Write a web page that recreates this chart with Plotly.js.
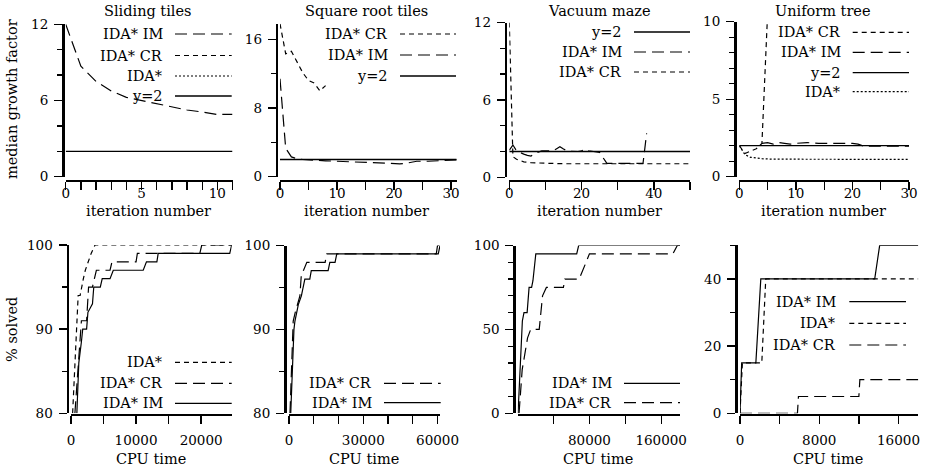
<!DOCTYPE html>
<html><head><meta charset="utf-8">
<script src="https://cdn.plot.ly/plotly-3.0.1.min.js"></script>
<style>html,body{margin:0;padding:0;background:#fff}#chart{width:925px;height:468px}</style>
</head><body><div id="chart"></div>
<script>
// ---------- DATA ----------
// Top row: median growth factor vs iteration number
const stIter = [0,1,2,3,4,5,6,7,8,9,10,11];
const stIM   = [12,8.7,7.5,6.75,6.25,6.0,5.75,5.5,5.25,5.1,4.9,4.9];
const stY2x  = [0,11];
const stY2   = [2,2];

const srCRIter = [0,1,2,3,4,5,6,7,8];
const srCR     = [17.8,14.3,14.6,13.4,12.1,11.2,10.9,10.0,10.6];
const srIMIter = [0,1,2,3,4,5,6,8,10,12,14,16,18,20,21,22,23,24,26,28,30,31];
const srIM     = [11.4,3.3,2.3,2.1,2.0,1.95,1.9,1.85,1.8,1.75,1.7,1.6,1.55,1.5,1.5,1.55,1.7,1.8,1.8,1.85,1.9,1.95];
const srY2x    = [0,31];
const srY2     = [2,2];

const vmCRIter = [0,1,2,3,4,6,8,10,15,20,30,40,50];
const vmCR     = [12,1.6,1.4,1.28,1.2,1.13,1.1,1.08,1.05,1.05,1.05,1.05,1.05];
const vmIMIter = [0,1,2,3,4,5,6,7,8,9,10,11,12,13,14,15,16,17,18,19,20,21,22,23,24,25,26,27,30,33,37,38];
const vmIM     = [2.1,2.5,2.05,1.9,1.8,1.7,1.65,1.85,1.95,2.05,2.06,2.06,2.06,2.2,2.37,2.2,2.05,2.02,2.0,2.0,2.05,2.17,2.06,2.02,1.98,1.92,1.5,1.08,1.08,1.08,1.08,3.4];
const vmY2x    = [0,50];
const vmY2     = [2,2];

const utCRIter  = [0,1,2,3,4,5];
const utCR      = [2.0,1.5,1.65,1.8,2.15,10.5];
const utIMIter  = [4,5,6,7,8,9,10,12,14,16,18,20,21,22,24,26,28,30];
const utIM      = [2.15,2.2,2.1,2.2,2.15,2.1,2.15,2.2,2.15,2.15,2.15,2.15,2.1,1.97,1.97,1.97,1.97,1.97];
const utIDAIter = [0,1,2,3,4,6,10,15,20,25,30];
const utIDA     = [2.0,1.42,1.25,1.2,1.16,1.13,1.12,1.12,1.12,1.12,1.12];
const utY2x     = [0,30];
const utY2      = [2,2];

// Bottom row: % solved vs CPU time
const st2TimeIDA = [250,500,800,1000,1100,1400,1600,1900,2200,2600,3100,3700,24700];
const st2IDA     = [80,84,88,91,94,94,95,96,97,98,99,100,100];
const st2TimeCR  = [600,1100,1600,2400,2700,3300,3900,6000,6300,10000,10200,19800,20100,24700];
const st2CR      = [80,86,91,91,95,95,97,97,98,98,99,99,100,100];
const st2TimeIM  = [900,1200,1600,1800,2400,2600,3300,3500,4500,4800,6000,6500,11100,11600,13200,13400,24400,24700];
const st2IM      = [80,86,88.5,90,90,92,93,95,95,96,96,97,97,98,98,99,99,100];

const sr2TimeCR = [400,1000,1700,2500,4400,5000,5800,7200,14600,15200,59500,60000,61000];
const sr2CR     = [80,85,91,92,94,96.6,97,98,98,99,99,100,100];
const sr2TimeIM = [700,1500,2000,2400,3000,3800,5000,6400,8400,9000,15800,16500,18600,19300,60300,61000];
const sr2IM     = [80,87,90,91,92,93,94,96,96,97,97,98,98,99,99,100];

const vm2TimeIM = [400,3000,5200,7000,10500,12700,15500,17000,19000,20200,65800,68000,181000];
const vm2IM     = [0,26,55,60,60,75,75,79,90,95,95,100,100];
const vm2TimeCR = [1500,5000,8500,11000,14500,24000,27700,32000,51000,52500,68500,72000,75500,80000,173000,178000,181000];
const vm2CR     = [0,26,37,45,50,50,70,75,75,80,80,85,89,95,95,100,100];

const ut2TimeIM  = [0,170,1600,2100,13600,14100,18000];
const ut2IM      = [0,15,15,40,40,50,50];
const ut2TimeIDA = [0,240,2200,2600,18000];
const ut2IDA     = [0,15,15,40,40];
const ut2TimeCR  = [0,5800,5900,12000,12100,18000];
const ut2CR      = [0,0,5,5,10,10];

// ---------- STYLES ----------
const W = 925, H = 468;
const FONT = '"DejaVu Serif", serif';
const TXT = 14.5, TICK = 13.5;
const LONG = '12px,6px', SHORT = '5px,4px', DOT = '2px,2px';
const LW = 1.2;
const px = x => x / W;
const py = y => 1 - y / H;

const traces = [];
function tr(ax, x, y, dash, w) {
  traces.push({x: x, y: y, xaxis: 'x' + ax, yaxis: 'y' + ax, mode: 'lines',
    line: {color: '#000', width: w || LW, dash: dash}, showlegend: false, hoverinfo: 'skip'});
}
tr(1, stY2x, stY2, 'solid', 1.3);
tr(1, stIter, stIM, LONG);
tr(2, srY2x, srY2, 'solid', 1.3);
tr(2, srIMIter, srIM, LONG);
tr(2, srCRIter, srCR, SHORT);
tr(3, vmY2x, vmY2, 'solid', 1.3);
tr(3, vmCRIter, vmCR, SHORT);
tr(3, vmIMIter, vmIM, LONG);
tr(4, utY2x, utY2, 'solid', 1.3);
tr(4, utIDAIter, utIDA, DOT);
tr(4, utCRIter, utCR, SHORT);
tr(4, utIMIter, utIM, LONG);
tr(5, st2TimeIDA, st2IDA, SHORT);
tr(5, st2TimeCR, st2CR, LONG);
tr(5, st2TimeIM, st2IM, 'solid');
tr(6, sr2TimeCR, sr2CR, LONG);
tr(6, sr2TimeIM, sr2IM, 'solid');
tr(7, vm2TimeCR, vm2CR, LONG);
tr(7, vm2TimeIM, vm2IM, 'solid');
tr(8, ut2TimeCR, ut2CR, LONG);
tr(8, ut2TimeIDA, ut2IDA, SHORT);
tr(8, ut2TimeIM, ut2IM, 'solid');

// ---------- AXES ----------
const panels = [
  {yx:63,    yTop:24.3, yBot:176.7, xL:65.7,  xR:232.5, xLine:181, so:-8,
   yr:[0,12], ydt:6, ymin:2, xr:[0,11], xv:[0,1,2,3,4,5,6,7,8,9,10,11], xt:['0','','','','','5','','','','','10','']},
  {yx:276.7, yTop:23.8, yBot:176.7, xL:280,   xR:456.7, xLine:181, so:-8,
   yr:[0,17.8], ydt:8, ymin:4, xr:[0,31], xv:[0,5,10,15,20,25,30], xt:['0','','10','','20','','30']},
  {yx:505.7, yTop:22.5, yBot:177.3, xL:509.3, xR:690,   xLine:181, so:-8,
   yr:[0,12], ydt:6, ymin:2, xr:[0,50], xv:[0,10,20,30,40,50], xt:['0','','20','','40','']},
  {yx:735,   yTop:21.7, yBot:176.7, xL:739.3, xR:909,   xLine:181, so:-8,
   yr:[0,10], ydt:5, ymin:1, xr:[0,30], xv:[0,5,10,15,20,25,30], xt:['0','','10','','20','','30']},
  {yx:67.5,  yTop:245,  yBot:413.3, xL:71,    xR:231.7, xLine:414.5, so:5,
   yr:[80,100], ydt:10, ymin:5, xr:[0,24700], xv:[0,5000,10000,15000,20000], xt:['0','','10000','','20000']},
  {yx:285,   yTop:245.5, yBot:413.3, xL:289,  xR:440,   xLine:414.5, so:5,
   yr:[80,100], ydt:10, ymin:5, xr:[0,61000], xv:[0,10000,20000,30000,40000,50000,60000], xt:['0','','','30000','','','60000']},
  {yx:514.3, yTop:245.5, yBot:413.3, xL:517.7, xR:680,  xLine:414.5, so:5,
   yr:[0,100], ydt:50, ymin:10, xr:[0,181000], xv:[40000,80000,120000,160000], xt:['','80000','','160000']},
  {yx:736,   yTop:245.3, yBot:413.3, xL:740,  xR:918.3, xLine:414.5, so:5,
   yr:[0,50], ydt:20, ymin:10, xr:[0,18000], xv:[0,4000,8000,12000,16000], xt:['0','','8000','','16000']}
];

const layout = {
  width: W, height: H, margin: {l:0, r:0, t:0, b:0, pad:0},
  paper_bgcolor: '#fff', plot_bgcolor: 'rgba(0,0,0,0)',
  showlegend: false, font: {family: FONT, size: TXT, color: '#000'},
  annotations: [], shapes: []
};
panels.forEach((p, i) => {
  const n = i + 1;
  layout['xaxis' + n] = {
    domain: [px(p.xL), px(p.xR)], anchor: 'free', position: py(p.xLine),
    range: p.xr, showgrid: false, zeroline: false, showline: true, linewidth: 2, linecolor: '#000',
    ticks: 'outside', ticklen: 8, tickwidth: 1.3, tickcolor: '#000',
    tickmode: 'array', tickvals: p.xv, ticktext: p.xt, ticklabelstandoff: p.so,
    tickfont: {family: FONT, size: TICK, color: '#000'}, fixedrange: true
  };
  layout['yaxis' + n] = {
    domain: [py(p.yBot), py(p.yTop)], anchor: 'free', position: px(p.yx),
    range: p.yr, showgrid: false, zeroline: false, showline: true, linewidth: 2.5, linecolor: '#000',
    ticks: 'outside', ticklen: 8, tickwidth: 1.3, tickcolor: '#000',
    tickmode: 'linear', tick0: 0, dtick: p.ydt, ticklabelstandoff: 3,
    minor: {dtick: p.ymin, tick0: 0, ticks: 'outside', ticklen: 5, tickwidth: 1.3, tickcolor: '#000', showgrid: false},
    tickfont: {family: FONT, size: TICK, color: '#000'}, fixedrange: true
  };
});

function text(x, y, t, anchor, angle) {
  layout.annotations.push({xref: 'paper', yref: 'paper', x: px(x), y: py(y), text: t, showarrow: false,
    xanchor: anchor || 'center', yanchor: 'middle', textangle: angle || 0,
    font: {family: FONT, size: TXT, color: '#000'}});
}
text(147, 11, 'Sliding tiles');
text(366.7, 11, 'Square root tiles');
text(599.3, 11, 'Vacuum maze');
text(823.3, 11, 'Uniform tree');
[148, 366, 599, 823].forEach(x => text(x, 211, 'iteration number'));
[151, 364, 597.5, 827.5].forEach(x => text(x, 459, 'CPU time'));
text(12, 99, 'median growth factor', 'center', -90);
text(12, 330, '% solved', 'center', -90);

// legends (gnuplot style: label right-aligned, line sample to the right)
function legend(right, s0, s1, rows) {
  rows.forEach(r => {
    text(right, r[0], r[1], 'right');
    layout.shapes.push({type: 'line', xref: 'paper', yref: 'paper', x0: px(s0), x1: px(s1), y0: py(r[0]), y1: py(r[0]),
      line: {color: '#000', width: r[2] === 'solid' ? 1.3 : LW, dash: r[2]}});
  });
}
legend(165, 175, 231.7, [[34,'IDA* IM',LONG],[55.5,'IDA* CR',SHORT],[76,'IDA*',DOT],[96,'y=2','solid']]);
legend(390, 400, 456, [[34,'IDA* CR',SHORT],[55,'IDA* IM',LONG],[76,'y=2','solid']]);
legend(624, 634, 690, [[32,'y=2','solid'],[52,'IDA* IM',LONG],[72,'IDA* CR',SHORT]]);
legend(842.7, 852.7, 909, [[32.3,'IDA* CR',SHORT],[52.3,'IDA* IM',LONG],[72.7,'y=2','solid'],[91.7,'IDA*',DOT]]);
legend(165, 175, 231.7, [[362.3,'IDA*',SHORT],[383.3,'IDA* CR',LONG],[403.3,'IDA* IM','solid']]);
legend(374, 384, 440.7, [[383.3,'IDA* CR',LONG],[402.7,'IDA* IM','solid']]);
legend(614, 624, 680, [[383.3,'IDA* IM','solid'],[402.7,'IDA* CR',LONG]]);
legend(838.3, 849.3, 906, [[301.7,'IDA* IM','solid'],[323.3,'IDA*',SHORT],[345,'IDA* CR',LONG]]);

Plotly.newPlot('chart', traces, layout, {staticPlot: true, displayModeBar: false});
</script></body></html>
